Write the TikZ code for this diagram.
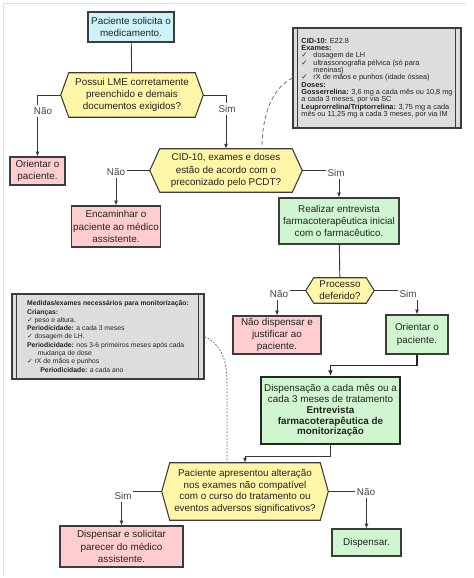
\documentclass[tikz,border=0pt]{standalone}
\usepackage{fontspec}
\setmainfont{Liberation Sans}
\newfontfamily\symfont{DejaVu Sans}
\usetikzlibrary{calc}
\usetikzlibrary{arrows.meta}
\usetikzlibrary{backgrounds}
\definecolor{startfill}{RGB}{204,243,249}
\definecolor{qfill}{RGB}{255,246,168}
\definecolor{nofill}{RGB}{255,205,205}
\definecolor{yesfill}{RGB}{208,246,208}
\definecolor{notefill}{RGB}{221,221,221}
\definecolor{boxline}{RGB}{60,60,60}
\definecolor{linecol}{RGB}{55,55,55}
\definecolor{txt}{RGB}{35,35,35}
\definecolor{framecol}{RGB}{225,225,225}
\newcommand{\mainsz}{\fontsize{7.4}{9.1}\selectfont}
\newcommand{\noteA}{\fontsize{5.5}{5.5}\selectfont}
\newcommand{\noteB}{\fontsize{5.1}{6.2}\selectfont}
\newcommand{\chk}{{\symfont ✓}}
% hexagon drawn behind a query node
\newcommand{\qhex}[2]{%
  \begin{scope}[on background layer]
  \filldraw[fill=qfill,draw=boxline,line width=.8pt] (#1.west) -- ($(#1.north west)+(#2,0)$)
    -- ($(#1.north east)+(-#2,0)$) -- (#1.east) -- ($(#1.south east)+(-#2,0)$)
    -- ($(#1.south west)+(#2,0)$) -- cycle;
  \end{scope}}
\tikzset{
  dims/.style 2 args={minimum width=#1*.75pt, minimum height=#2*.75pt},
  box/.style={draw=boxline, line width=.8pt, inner sep=1pt, align=center, font=\mainsz, text=txt},
  startbox/.style={box, fill=startfill},
  nobox/.style={box, fill=nofill},
  yesbox/.style={box, fill=yesfill},
  query/.style={inner sep=0pt, align=center, font=\mainsz, text=txt},
  notebox/.style={draw=boxline, fill=notefill, line width=.8pt, inner sep=0pt, align=left, text=txt},
  lbl/.style={fill=white, inner sep=1.5pt, font=\mainsz, text=txt!85},
  link/.style={draw=linecol, line width=.7pt},
  arr/.style={link, -{Latex[length=3.6pt,width=3pt]}},
  noteline/.style={draw=black!55, line width=.6pt},
}

\begin{document}
\begin{tikzpicture}[x=.75pt,y=-.75pt]
\useasboundingbox (0,0) rectangle (474,578);
\draw[framecol] (3,576)--(3,3)--(466,3);

% boxes
\node[startbox, dims={86}{30}] (start) at (131,27) {Paciente solicita o\\medicamento.};
\node[query, dims={142}{44}] (q1) at (132,95) {Possui LME corretamente\\preenchido e demais\\documentos exigidos?};
\node[nobox, dims={55}{28}] (ori1) at (37.5,171) {Orientar o\\paciente.};
\node[query, dims={152}{43}] (q2) at (226,170.5) {CID-10, exames e doses\\estão de acordo com o\\preconizado pelo PCDT?};
\node[nobox, dims={88}{41}] (enc) at (116,226.5) {Encaminhar o\\paciente ao médico\\assistente.};
\node[yesbox, dims={120}{46}] (real) at (339,221) {Realizar entrevista\\farmacoterapêutica inicial\\com o farmacêutico.};
\node[query, dims={68}{25}] (q3) at (340,290.5) {Processo\\deferido?};
\node[nobox, dims={88}{38}] (naodisp) at (277,335) {Não dispensar e\\justificar ao\\paciente.};
\node[yesbox, dims={62}{39}] (ori2) at (417,334.5) {Orientar o\\paciente.};
\node[yesbox, line width=1.8pt, draw=black!85, dims={139}{67},
  font=\fontsize{7.4}{8.2}\selectfont] (disp) at (330.5,410.5)
  {Dispensação a cada mês ou a\\cada 3 meses de tratamento\\\textbf{Entrevista}\\\textbf{farmacoterapêutica de}\\\textbf{monitorização}};
\node[query, dims={166}{57}, font=\fontsize{7.4}{8.8}\selectfont] (q4) at (245,491.5)
  {Paciente apresentou alteração\\nos exames não compatível\\com o curso do tratamento ou\\eventos adversos significativos?};
\node[nobox, dims={123}{41}] (dispsol) at (121.5,546.5) {Dispensar e solicitar\\parecer do médico\\assistente.};
\node[yesbox, dims={69}{27}] (dispf) at (366.5,542.5) {Dispensar.};
\foreach \n/\d in {q1/8,q2/10,q3/8,q4/8} {\qhex{\n}{\d}}

% notes
\node[notebox, dims={168}{100}, font=\noteA] (note1) at (377,78)
  {\textbf{CID-10:} E22.8\\
   \textbf{Exames:}\\
   \makebox[9pt][l]{\chk}dosagem de LH\\
   \makebox[9pt][l]{\chk}ultrassonografia pélvica (só para\\
   \hspace*{9pt}meninas)\\
   \makebox[9pt][l]{\chk}rX de mãos e punhos (idade óssea)\\
   \textbf{Doses:}\\
   \textbf{Gosserrelina:} 3,6 mg a cada mês ou 10,8 mg\\
   a cada 3 meses, por via SC\\
   \textbf{Leuprorrelina/Triptorrelina:} 3,75 mg a cada\\
   mês ou 11,25 mg a cada 3 meses, por via IM};
\node[notebox, dims={192}{85}, font=\noteB] (note2) at (108,336.5)
  {\textbf{Medidas/exames necessários para monitorização:}\\
   \textbf{Crianças:}\\
   \chk\ peso e altura.\\
   \textbf{Periodicidade:} a cada 3 meses\\
   \chk\ dosagem de LH.\\
   \textbf{Periodicidade:} nos 3-6 primeiros meses após cada\\
   \hspace*{8pt}mudança de dose\\
   \chk\ rX de mãos e punhos\\
   \hspace*{10pt}\textbf{Periodicidade:} a cada ano};
\foreach \n in {note1,note2} {
  \draw[boxline,line width=.8pt] ($(\n.north west)+(5,0)$)--($(\n.south west)+(5,0)$);
  \draw[boxline,line width=.8pt] ($(\n.north east)+(-6,0)$)--($(\n.south east)+(-6,0)$);
}

% connectors
\draw[link] (start)--(q1);
\draw[arr] (q1.west)-|(ori1.north);
\draw[arr] (q1.east)-|(q2.north);
\draw[arr] (q2.west)-|(enc.north);
\draw[arr] (q2.east)-|(real.north);
\draw[link] (real)--(q3);
\draw[arr] (q3.west)-|(naodisp.north);
\draw[arr] (q3.east)-|(ori2.north);
\draw[draw=black!85, line width=1.3pt, -{Latex[length=4pt,width=3.6pt]}] (ori2.south)--++(0,11)-|(disp.north);
\draw[arr] (disp.south)--++(0,11)-|(q4.north);
\draw[arr] (q4.west)-|(dispsol.north);
\draw[arr] (q4.east)-|(dispf.north);

\node[lbl] (l1) at (43,111) {Não};
\node[lbl] (l2) at (227,109) {Sim};
\node[lbl] (l3) at (116,172) {Não};
\node[lbl] (l4) at (336,173) {Sim};
\node[lbl] (l5) at (279,294) {Não};
\node[lbl] (l6) at (408,294) {Sim};
\node[lbl] (l7) at (123,496) {Sim};
\node[lbl] (l8) at (366,492) {Não};

% links to the notes
\coordinate (k1) at ($(q2.north)+(36,0)$);
\coordinate (k2) at ($(q4.north)+(-18,0)$);
\draw[noteline, dash pattern=on 3pt off 2pt] (note1.west) .. controls (272,88) and (262,115) .. (k1);
\draw[noteline, dash pattern=on 1.4pt off 1.1pt] (note2.east) .. controls (222,345) and (227,360) .. (227,385)--(k2);
\end{tikzpicture}
\end{document}
